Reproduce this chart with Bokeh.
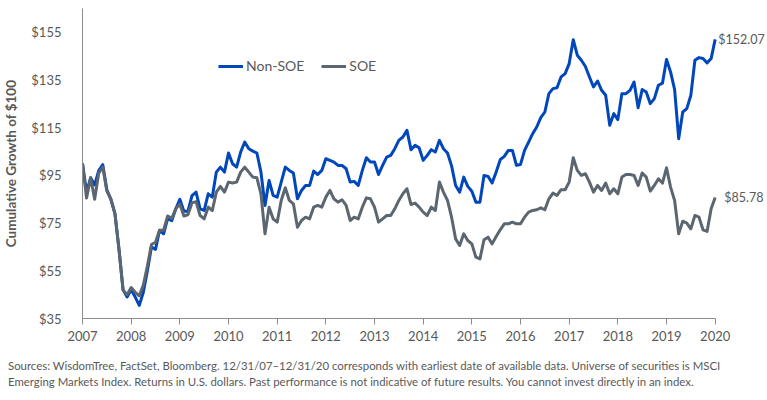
from bokeh.plotting import figure
from bokeh.models import Range1d, FixedTicker, Label, Legend, LegendItem, ColumnDataSource, Div
from bokeh.layouts import column
from bokeh.embed import file_html
from bokeh.resources import INLINE

# Monthly cumulative growth of $100, 12/31/07 - 12/31/20 (month index 0..156)
non_soe = [100, 88, 94, 91, 97, 99.5, 89, 85, 79, 64, 47, 44,
           47, 44, 40.5, 46, 55, 65, 64, 72, 70.5, 77, 76, 81,
           85, 80, 80, 86.5, 88, 81, 80.3, 87.3, 85.9, 96.4, 98.5, 96.4,
           104.4, 99.9, 98.5, 104.8, 109.0, 106.2, 105.2, 104.4, 96.4, 82.4, 92.9, 86.6,
           85.9, 92.2, 98.5, 97.1, 96.0, 85.2, 88.7, 90.8, 90.8, 96.8, 95.4, 97.1,
           102.0, 101.3, 100.6, 99.2, 99.2, 97.8, 92.2, 92.5, 90.8, 97.1, 102.4, 100.6,
           100.6, 95.4, 99.2, 102.7, 103.4, 106.2, 109.7, 111.1, 113.9, 105.8, 107.6, 106.6,
           101.3, 103.4, 105.8, 104.8, 109.7, 106.2, 104.4, 99.0, 90.8, 88.0, 94.3, 90.4,
           88.4, 83.8, 83.8, 95.0, 94.6, 91.8, 96.4, 101.6, 103.0, 105.5, 105.5, 99.2,
           99.6, 105.5, 109.0, 112.5, 115.3, 119.2, 121.6, 129.3, 131.4, 131.8, 136.3, 137.7,
           141.9, 151.9, 145.4, 143.3, 140.7, 136.3, 132.1, 134.6, 130.7, 128.6, 116.0, 120.9,
           118.4, 129.3, 129.3, 130.7, 134.2, 123.4, 131.0, 130.0, 125.1, 127.2, 132.8, 133.7,
           143.6, 138.4, 131.0, 110.4, 121.6, 123.0, 128.6, 143.3, 144.4, 144.0, 142.2, 144.0,
           152.07]
soe = [100, 85.5, 94, 85, 96, 98.5, 88.5, 85, 79, 64, 47, 45,
       48, 46, 44.5, 49, 57, 66, 67, 72, 72, 78, 77, 81,
       83, 78, 78.5, 83.5, 84, 78.2, 76.8, 81.7, 80.3, 88.0, 90.4, 88.0,
       92.2, 91.8, 92.2, 96.4, 98.5, 96.4, 94.3, 94.0, 87.3, 70.5, 81.7, 76.8,
       75.4, 84.5, 89.8, 84.5, 83.1, 73.3, 76.1, 77.5, 76.8, 81.7, 82.4, 81.7,
       85.9, 88.7, 85.2, 83.8, 84.8, 82.4, 76.1, 77.5, 76.8, 81.7, 85.6, 85.2,
       81.7, 75.4, 76.8, 78.2, 78.2, 81.0, 84.5, 87.3, 89.4, 82.8, 83.4, 81.7,
       79.6, 78.2, 81.7, 80.3, 92.2, 88.0, 84.5, 77.5, 68.4, 65.6, 70.5, 67.7,
       66.3, 60.7, 60.0, 68.0, 69.1, 66.3, 69.4, 72.2, 74.7, 74.7, 75.4, 74.7,
       74.7, 77.5, 79.6, 80.3, 80.6, 81.4, 80.6, 85.2, 87.6, 86.6, 89.0, 89.0,
       92.2, 102.4, 97.1, 95.0, 95.7, 92.2, 88.0, 90.8, 88.7, 91.8, 87.3, 89.4,
       87.3, 94.3, 95.4, 95.4, 95.0, 90.8, 96.0, 94.3, 88.4, 90.8, 93.6, 91.8,
       98.2, 90.1, 84.5, 70.5, 75.8, 75.0, 72.6, 78.2, 77.5, 72.2, 71.5, 81.0,
       85.78]
months = list(range(len(non_soe)))
year_labels = [str(y) for y in range(2007, 2021)]
year_ticks = [12 * k for k in range(len(year_labels))]
y_ticks = [35, 55, 75, 95, 115, 135, 155]
series_names = ["Non-SOE", "SOE"]
end_labels = ["$152.07", "$85.78"]
foot1 = ("Sources: WisdomTree, FactSet, Bloomberg. 12/31/07\u201312/31/20 corresponds with earliest date of "
         "available data. Universe of securities is MSCI")
foot2 = ("Emerging Markets Index. Returns in U.S. dollars. Past performance is not indicative of future "
         "results. You cannot invest directly in an index.")

FONT = "Lato"
TXT = "#595959"
BLUE = "#0047BB"
GRAY = "#5B6670"
AXIS = "#8C8C8C"

p = figure(width=767, height=348, output_backend="svg", toolbar_location=None,
           x_range=Range1d(0, 168.9), y_range=Range1d(35, 165),
           min_border_left=76, min_border_right=0, min_border_top=8, min_border_bottom=30)
p.outline_line_color = None
p.grid.visible = False
p.background_fill_color = "white"
p.border_fill_color = "white"

src = ColumnDataSource(dict(m=months, a=non_soe, b=soe))
r1 = p.line("m", "a", source=src, line_color=BLUE, line_width=3, line_join="round")
r2 = p.line("m", "b", source=src, line_color=GRAY, line_width=3, line_join="round")

# axes
xa = p.xaxis[0]
xa.bounds = (months[0], months[-1])
xa.ticker = FixedTicker(ticks=year_ticks)
xa.major_label_overrides = {t: l for t, l in zip(year_ticks, year_labels)}
xa.axis_line_color = AXIS
xa.major_tick_line_color = AXIS
xa.major_tick_out = 6
xa.major_tick_in = 0
xa.minor_tick_line_color = None
xa.major_label_text_font = FONT
xa.major_label_text_font_size = "13px"
xa.major_label_text_color = TXT
xa.major_label_standoff = 6

ya = p.yaxis[0]
ya.ticker = FixedTicker(ticks=y_ticks)
ya.major_label_overrides = {t: "$%d" % t for t in y_ticks}
ya.axis_line_color = AXIS
ya.major_tick_line_color = None
ya.minor_tick_line_color = None
ya.major_label_text_font = FONT
ya.major_label_text_font_size = "13px"
ya.major_label_text_color = TXT
ya.major_label_standoff = 15
ya.axis_label = "Cumulative Growth of $100"
ya.axis_label_text_font = FONT
ya.axis_label_text_font_size = "13.5px"
ya.axis_label_text_font_style = "bold"
ya.axis_label_text_color = TXT
ya.axis_label_standoff = 9

# end labels
p.add_layout(Label(x=months[-1], y=non_soe[-1], text=end_labels[0], x_offset=3,
                   text_baseline="middle", text_align="left", text_font=FONT,
                   text_font_size="12.5px", text_color=TXT))
p.add_layout(Label(x=months[-1], y=soe[-1], text=end_labels[1], x_offset=9,
                   text_baseline="middle", text_align="left", text_font=FONT,
                   text_font_size="12.5px", text_color=TXT))

# legend
legend = Legend(items=[LegendItem(label=series_names[0], renderers=[r1]),
                       LegendItem(label=series_names[1], renderers=[r2])],
                location=(136, 244), orientation="horizontal",
                padding=0, margin=0, spacing=17, glyph_width=25, glyph_height=16,
                label_height=16, label_standoff=3,
                label_text_font=FONT, label_text_font_size="14px", label_text_color=TXT,
                border_line_color=None, background_fill_alpha=0)
p.add_layout(legend, "center")

# footnote
note = Div(text=foot1 + "<br>" + foot2, width=767, height=52, margin=(0, 0, 0, 0),
           styles={"font-family": FONT, "font-size": "11.4px", "line-height": "16px",
                   "color": TXT, "padding-top": "10px", "padding-left": "8px",
                   "white-space": "nowrap"})

layout = column(p, note, spacing=0)
open("out.html", "w").write(file_html(layout, INLINE))
